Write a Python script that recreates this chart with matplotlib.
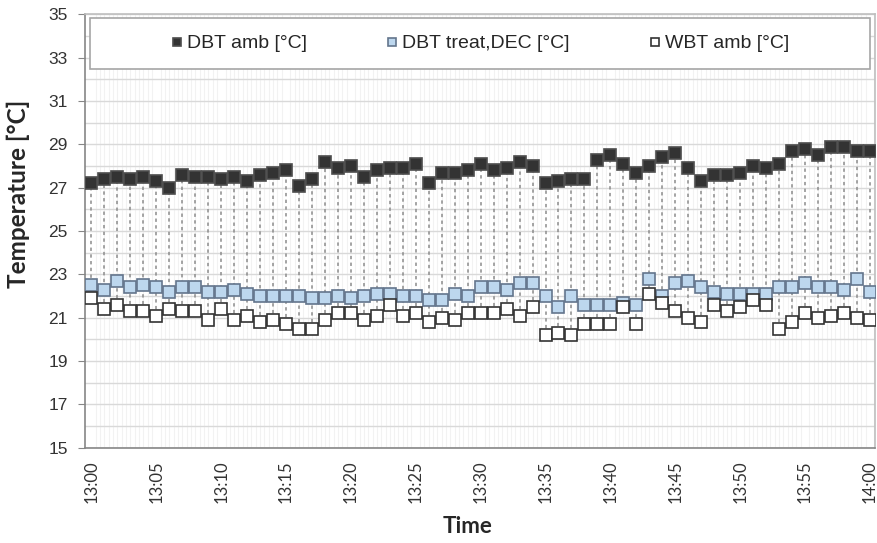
import matplotlib
matplotlib.use('agg')
import matplotlib.pyplot as plt
from matplotlib.patches import Rectangle
import numpy as np

minutes = list(range(61))
dbt_amb = [27.2, 27.4, 27.5, 27.4, 27.5, 27.3, 27.0, 27.6, 27.5, 27.5,
           27.4, 27.5, 27.3, 27.6, 27.7, 27.8, 27.1, 27.4, 28.2, 27.9,
           28.0, 27.5, 27.8, 27.9, 27.9, 28.1, 27.2, 27.7, 27.7, 27.8,
           28.1, 27.8, 27.9, 28.2, 28.0, 27.2, 27.3, 27.4, 27.4, 28.3,
           28.5, 28.1, 27.7, 28.0, 28.4, 28.6, 27.9, 27.3, 27.6, 27.6,
           27.7, 28.0, 27.9, 28.1, 28.7, 28.8, 28.5, 28.9, 28.9, 28.7, 28.7]
dbt_treat = [22.5, 22.3, 22.7, 22.4, 22.5, 22.4, 22.2, 22.4, 22.4, 22.2,
             22.2, 22.3, 22.1, 22.0, 22.0, 22.0, 22.0, 21.9, 21.9, 22.0,
             21.9, 22.0, 22.1, 22.1, 22.0, 22.0, 21.8, 21.8, 22.1, 22.0,
             22.4, 22.4, 22.3, 22.6, 22.6, 22.0, 21.5, 22.0, 21.6, 21.6,
             21.6, 21.7, 21.6, 22.8, 22.0, 22.6, 22.7, 22.4, 22.2, 22.1,
             22.1, 22.1, 22.1, 22.4, 22.4, 22.6, 22.4, 22.4, 22.3, 22.8, 22.2]
wbt_amb = [21.9, 21.4, 21.6, 21.3, 21.3, 21.1, 21.4, 21.3, 21.3, 20.9,
           21.4, 20.9, 21.1, 20.8, 20.9, 20.7, 20.5, 20.5, 20.9, 21.2,
           21.2, 20.9, 21.1, 21.6, 21.1, 21.2, 20.8, 21.0, 20.9, 21.2,
           21.2, 21.2, 21.4, 21.1, 21.5, 20.2, 20.3, 20.2, 20.7, 20.7,
           20.7, 21.5, 20.7, 22.1, 21.7, 21.3, 21.0, 20.8, 21.6, 21.3,
           21.5, 21.8, 21.6, 20.5, 20.8, 21.2, 21.0, 21.1, 21.2, 21.0, 20.9]
tick_minutes = list(range(0, 61, 5))
tick_labels = ['13:%02d' % m for m in tick_minutes[:-1]] + ['14:00']

fig = plt.figure(figsize=(8.78, 5.43), dpi=100)
ax = fig.add_axes([0.0968, 0.1755, 0.8998, 0.7978])

# high-low lines
all_vals = np.array([dbt_amb, dbt_treat, wbt_amb])
ax.vlines(minutes, all_vals.min(axis=0), all_vals.max(axis=0), colors='#8c8c8c',
          linestyles=(0, (2.2, 2.2)), linewidth=1.1, zorder=2)

ms = 8
ax.plot(minutes, dbt_amb, 's', ms=ms, mfc='#333333', mec='#4d4d4d', mew=1.2,
        label='DBT amb [°C]', zorder=3)
ax.plot(minutes, dbt_treat, 's', ms=ms, mfc='#bdd7ee', mec='#63758c', mew=1.2,
        label='DBT treat,DEC [°C]', zorder=3)
ax.plot(minutes, wbt_amb, 's', ms=ms, mfc='white', mec='#333333', mew=1.2,
        label='WBT amb [°C]', zorder=4)

ax.set_xlim(-0.5, 60.4)
ax.set_ylim(15, 35)
ax.set_yticks(range(15, 36, 2))
ax.set_yticks(range(15, 36), minor=True)
ax.set_xticks(tick_minutes)
ax.set_xticklabels(tick_labels, rotation=90, family='Lato', fontsize=12, color='#333333')
ax.set_xticks(np.arange(0, 60.4, 1/3), minor=True)
ax.tick_params(axis='x', which='both', length=0, pad=9)
ax.tick_params(axis='y', which='major', length=5, color='#868686', labelsize=12.5,
               labelcolor='#333333', pad=7.5)
ax.tick_params(axis='y', which='minor', length=0)
for lbl in ax.get_yticklabels():
    lbl.set_family('Liberation Sans')

ax.grid(True, axis='y', which='both', color='#d9d9d9', linewidth=1, zorder=0)
ax.grid(True, axis='x', which='minor', color='#f2f2f2', linewidth=0.8, zorder=0)
ax.set_axisbelow(True)

ax.spines['left'].set_color('#868686')
ax.spines['bottom'].set_color('#868686')
ax.spines['top'].set_color('#bfbfbf')
ax.spines['right'].set_color('#bfbfbf')
for s in ax.spines.values():
    s.set_linewidth(1.2)

# legend box
ax.add_patch(Rectangle((0.0063, 0.874), 0.9874, 0.118, transform=ax.transAxes,
                       facecolor='white', edgecolor='#a6a6a6', linewidth=1.2, zorder=5))
leg = ax.legend(loc='center', bbox_to_anchor=(0.5, 0.933), ncol=3, frameon=False,
                prop={'family': 'Liberation Sans', 'size': 14}, markerscale=0.8,
                handlelength=0.6, handletextpad=0.2, columnspacing=4.1)
leg.set_zorder(6)
for t in leg.get_texts():
    t.set_color('#262626')

fig.text(0.021, 0.643, 'Temperature [°C]', rotation=90, ha='center', va='center',
         family='Lato', fontweight='bold', fontsize=17.5, color='#262626')
fig.text(0.533, 0.0295, 'Time', ha='center', va='center',
         family='Lato', fontweight='bold', fontsize=16, color='#262626')

fig.savefig('out.png', dpi=100)
